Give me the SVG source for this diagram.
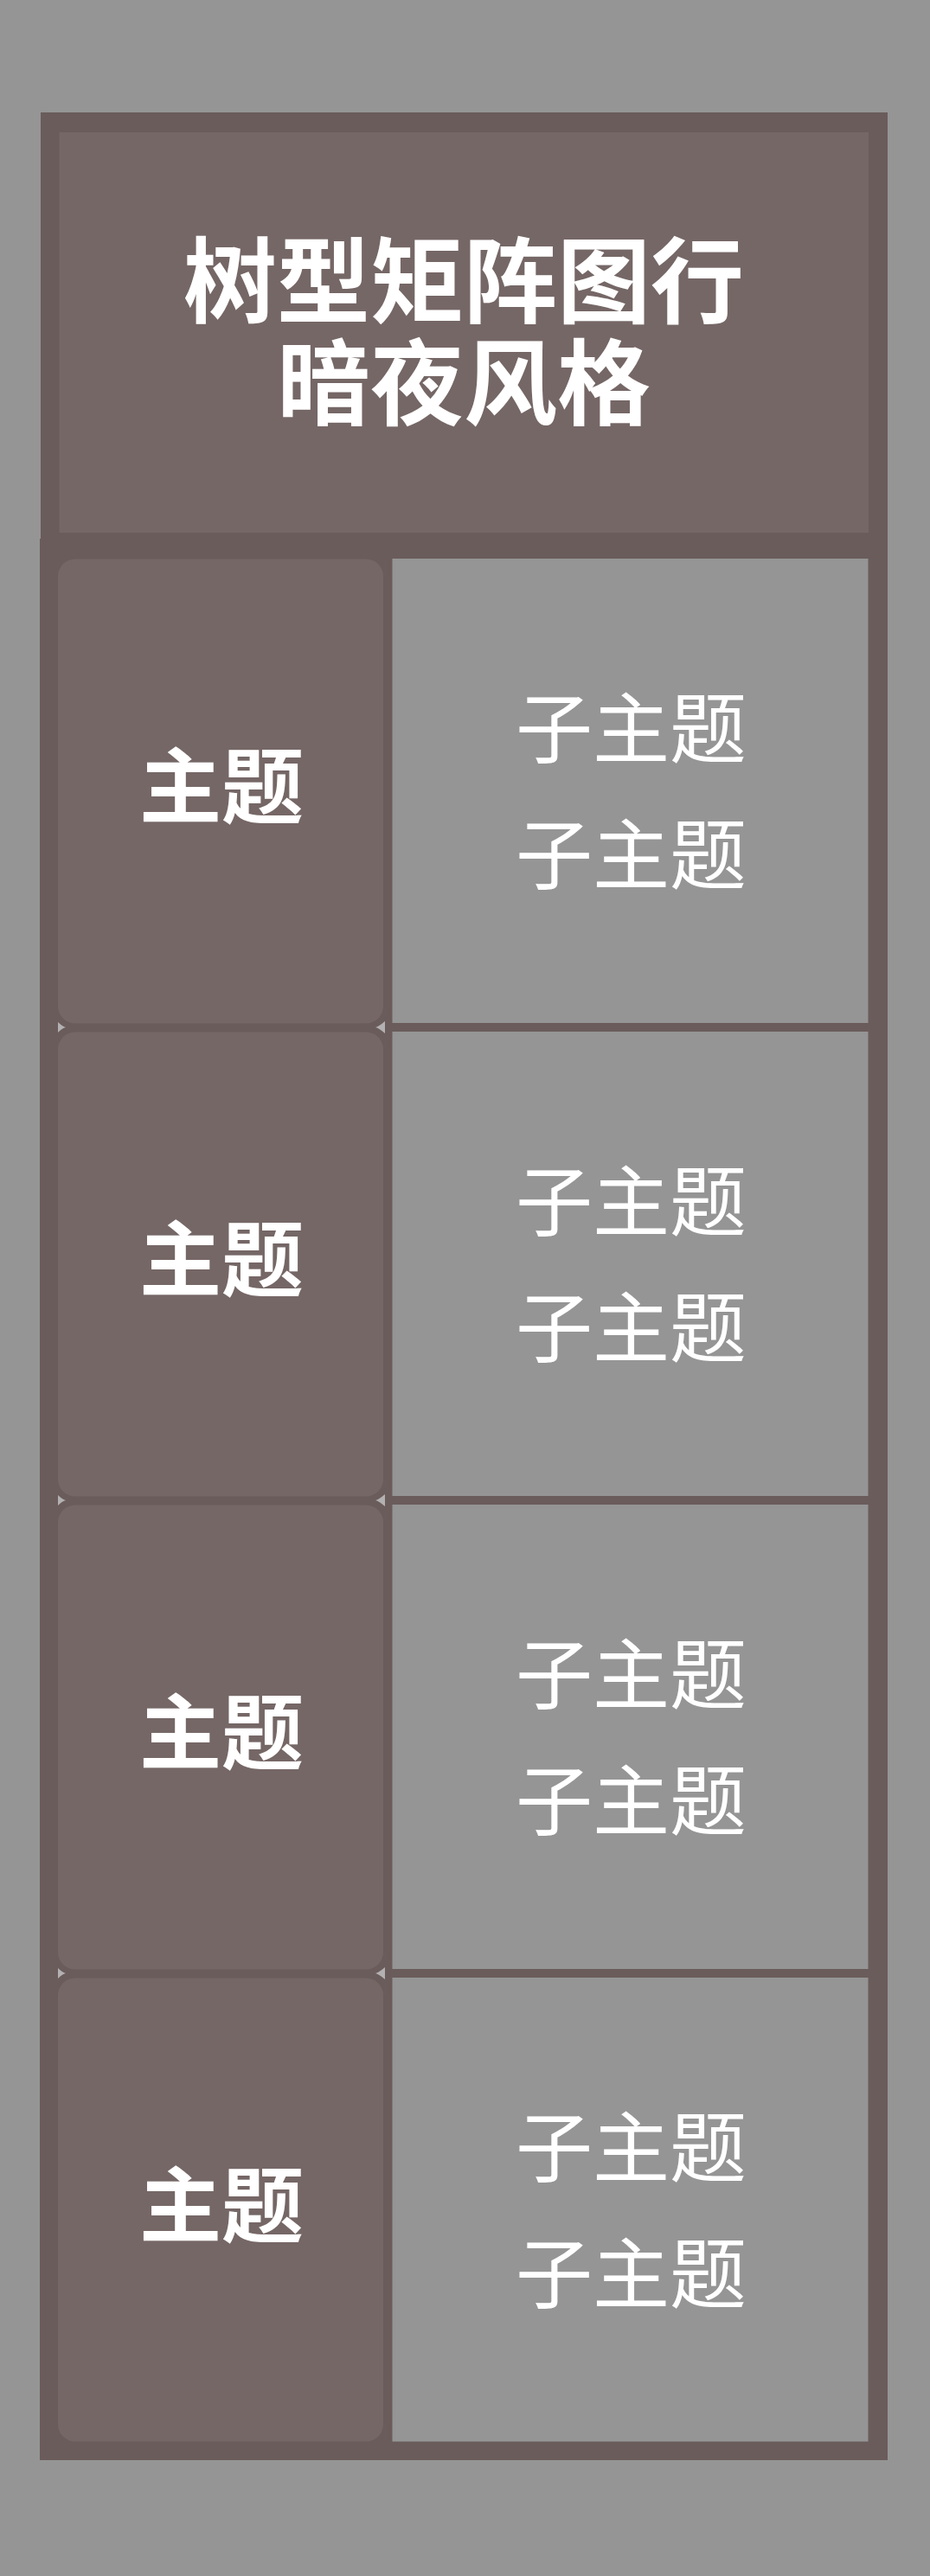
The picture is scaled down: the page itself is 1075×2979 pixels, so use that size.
<svg xmlns="http://www.w3.org/2000/svg" width="1075" height="2979" viewBox="0 0 1075 2979">
<style>
.frame{fill:#6a5c5b}
.box{fill:#756766}
.cell{fill:#959595}
.notch{fill:#b3b1b1}
.title{font-family:"Noto Sans CJK SC","Noto Sans",sans-serif;font-size:108px;font-weight:bold;fill:#ffffff;text-anchor:middle}
.main{font-family:"Noto Sans CJK SC","Noto Sans",sans-serif;font-size:95px;font-weight:bold;fill:#ffffff;text-anchor:middle}
.sub{font-family:"Noto Sans CJK SC","Noto Sans",sans-serif;font-size:89px;fill:#ffffff;text-anchor:middle}
</style>
<rect x="0" y="0" width="1075" height="2979" fill="#959595"/>
<g id="frame">
<rect class="frame" x="47" y="130" width="979" height="500"/>
<rect class="frame" x="46" y="623" width="980" height="2222"/>
</g>
<g id="title">
<rect class="box" x="68.5" y="153" width="935.5" height="463"/>
<text class="title"><tspan x="536" y="364.5">树型矩阵图行</tspan><tspan x="536" y="483">暗夜风格</tspan></text>
</g>
<g id="row1">
<g id="topic1"><rect class="box" x="67" y="646.5" width="376" height="537" rx="20" ry="20"/><text class="main" x="256" y="945">主题</text></g>
<g id="sub1"><rect class="cell" x="453.5" y="646" width="550" height="537"/><text class="sub" x="729.5" y="874.5">子主题</text><text class="sub" x="729.5" y="1020.5">子主题</text></g>
</g>
<g id="row2">
<g id="topic2"><rect class="box" x="67" y="1193.5" width="376" height="537" rx="20" ry="20"/><text class="main" x="256" y="1492">主题</text></g>
<g id="sub2"><rect class="cell" x="453.5" y="1193" width="550" height="537"/><text class="sub" x="729.5" y="1421.5">子主题</text><text class="sub" x="729.5" y="1567.5">子主题</text></g>
</g>
<g id="row3">
<g id="topic3"><rect class="box" x="67" y="1740.5" width="376" height="537" rx="20" ry="20"/><text class="main" x="256" y="2039">主题</text></g>
<g id="sub3"><rect class="cell" x="453.5" y="1740" width="550" height="537"/><text class="sub" x="729.5" y="1968.5">子主题</text><text class="sub" x="729.5" y="2114.5">子主题</text></g>
</g>
<g id="row4">
<g id="topic4"><rect class="box" x="67" y="2287.5" width="376" height="536" rx="20" ry="20"/><text class="main" x="256" y="2586">主题</text></g>
<g id="sub4"><rect class="cell" x="453.5" y="2287" width="550" height="536.5"/><text class="sub" x="729.5" y="2515.5">子主题</text><text class="sub" x="729.5" y="2661.5">子主题</text></g>
</g>
<g id="notches">
<path class="notch" d="M67,1182 Q72,1187 76,1188 Q72,1189 67,1194 Z"/>
<path class="notch" d="M445,1181 Q438,1187 434,1188 Q438,1189 445,1195 Z"/>
<path class="notch" d="M67,1729 Q72,1734 76,1735 Q72,1736 67,1741 Z"/>
<path class="notch" d="M445,1728 Q438,1734 434,1735 Q438,1736 445,1742 Z"/>
<path class="notch" d="M67,2276 Q72,2281 76,2282 Q72,2283 67,2288 Z"/>
<path class="notch" d="M445,2275 Q438,2281 434,2282 Q438,2283 445,2289 Z"/>
</g>
</svg>
